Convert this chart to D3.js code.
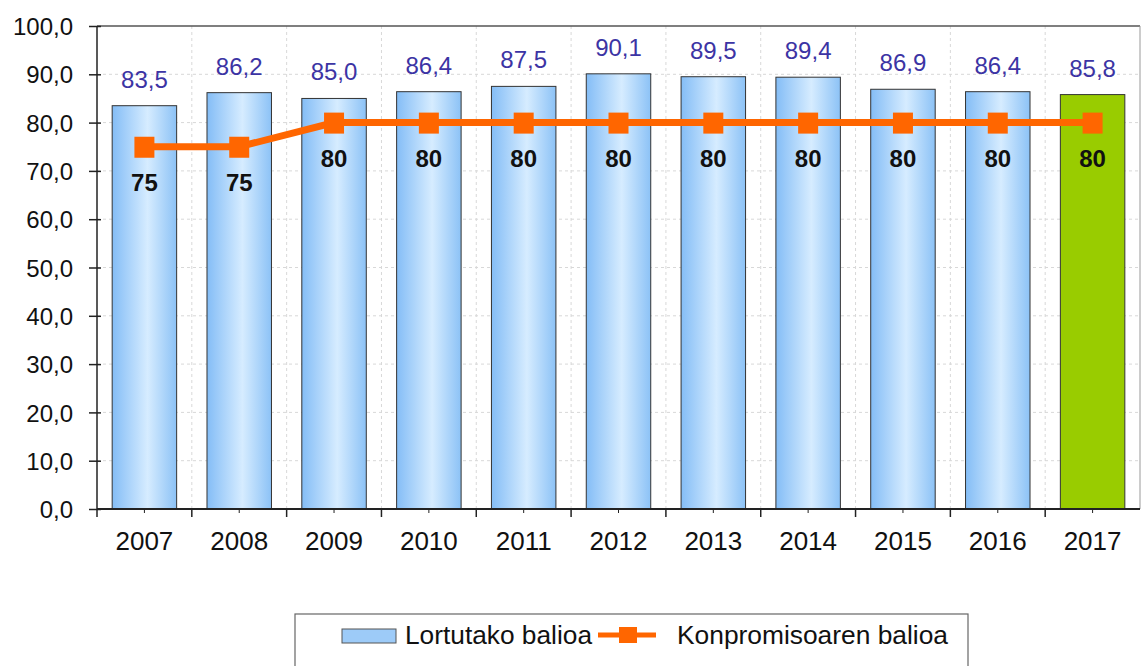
<!DOCTYPE html>
<html>
<head>
<meta charset="utf-8">
<script src="https://cdn.jsdelivr.net/npm/d3@7"></script>
<style>
  body { margin: 0; background: #fff; }
  svg { font-family: "Liberation Sans", Arial, sans-serif; }
</style>
</head>
<body>
<div id="chart"></div>
<script>
var years = ["2007", "2008", "2009", "2010", "2011", "2012", "2013", "2014", "2015", "2016", "2017"];
var achieved = [83.5, 86.2, 85.0, 86.4, 87.5, 90.1, 89.5, 89.4, 86.9, 86.4, 85.8];
var commitment = [75, 75, 80, 80, 80, 80, 80, 80, 80, 80, 80];
var yTicks = [0, 10, 20, 30, 40, 50, 60, 70, 80, 90, 100];
var legendLabels = ["Lortutako balioa", "Konpromisoaren balioa"];

var w = 1141, h = 666;
var pLeft = 97, pRight = 1140, pTop = 26, pBottom = 509;

var svg = d3.select("#chart").append("svg")
    .attr("width", w)
    .attr("height", h);

var defs = svg.append("defs");
var grad = defs.append("linearGradient").attr("id", "blueGrad")
    .attr("x1", "0%").attr("x2", "100%").attr("y1", "0%").attr("y2", "0%");
grad.append("stop").attr("offset", "0%").attr("stop-color", "#84bdf6");
grad.append("stop").attr("offset", "55%").attr("stop-color", "#d6ecff");
grad.append("stop").attr("offset", "100%").attr("stop-color", "#8cc2f6");

var x = d3.scaleBand().domain(years).range([pLeft, pRight]).paddingInner(0.32).paddingOuter(0.16);
var xb = d3.scaleBand().domain(years).range([pLeft, pRight]);
var y = d3.scaleLinear().domain([0, 100]).range([pBottom, pTop]);

var fmt = function (v) { return v.toFixed(1).replace(".", ","); };

// grid
svg.append("g").selectAll("line")
    .data(yTicks.slice(1, -1))
    .enter().append("line")
    .attr("x1", pLeft).attr("x2", pRight)
    .attr("y1", function (d) { return y(d); })
    .attr("y2", function (d) { return y(d); })
    .attr("stroke", "#d8d8d8")
    .attr("stroke-dasharray", "3,3");

svg.append("g").selectAll("line")
    .data(years.slice(1))
    .enter().append("line")
    .attr("x1", function (d) { return xb(d); })
    .attr("x2", function (d) { return xb(d); })
    .attr("y1", pTop).attr("y2", pBottom)
    .attr("stroke", "#d8d8d8")
    .attr("stroke-dasharray", "3,3");

// bars
svg.append("g").selectAll("rect")
    .data(achieved)
    .enter().append("rect")
    .attr("x", function (d, i) { return x(years[i]); })
    .attr("y", function (d) { return y(d); })
    .attr("width", x.bandwidth())
    .attr("height", function (d) { return pBottom - y(d); })
    .attr("fill", function (d, i) { return i == years.length - 1 ? "#99cc00" : "url(#blueGrad)"; })
    .attr("stroke", "#333")
    .attr("stroke-width", 1);

// frame
svg.append("line").attr("x1", pLeft).attr("x2", pRight).attr("y1", pTop).attr("y2", pTop)
    .attr("stroke", "#555").attr("stroke-width", 1.5);
svg.append("line").attr("x1", pRight).attr("x2", pRight).attr("y1", pTop).attr("y2", pBottom)
    .attr("stroke", "#999").attr("stroke-width", 1);

// y axis
var yAxis = d3.axisLeft(y).tickValues(yTicks).tickSize(12).tickFormat(fmt);
var gy = svg.append("g").attr("transform", "translate(" + (pLeft + 4) + ",0)").call(yAxis);
gy.select(".domain").remove();
gy.selectAll(".tick line").attr("stroke", "#222").attr("stroke-width", 1.5);
gy.selectAll("text").attr("font-size", 24).attr("fill", "#111").attr("x", -28).attr("dy", "0.36em");
svg.append("line").attr("x1", pLeft).attr("x2", pLeft).attr("y1", pTop).attr("y2", pBottom)
    .attr("stroke", "#222").attr("stroke-width", 1.5);

// x axis
svg.append("line").attr("x1", pLeft).attr("x2", pRight).attr("y1", pBottom).attr("y2", pBottom)
    .attr("stroke", "#222").attr("stroke-width", 2);
svg.append("g").selectAll("line")
    .data(years)
    .enter().append("line")
    .attr("x1", function (d) { return xb(d); })
    .attr("x2", function (d) { return xb(d); })
    .attr("y1", pBottom).attr("y2", pBottom + 8)
    .attr("stroke", "#222").attr("stroke-width", 1.5);
svg.append("g").selectAll("line")
    .data(years)
    .enter().append("line")
    .attr("x1", function (d) { return xb(d) + xb.bandwidth() / 2; })
    .attr("x2", function (d) { return xb(d) + xb.bandwidth() / 2; })
    .attr("y1", pBottom).attr("y2", pBottom + 4)
    .attr("stroke", "#222").attr("stroke-width", 1);
svg.append("g").selectAll("text")
    .data(years)
    .enter().append("text")
    .attr("x", function (d) { return xb(d) + xb.bandwidth() / 2; })
    .attr("y", pBottom + 41)
    .attr("text-anchor", "middle")
    .attr("font-size", 26)
    .attr("fill", "#111")
    .text(function (d) { return d; });

// bar labels
svg.append("g").selectAll("text")
    .data(achieved)
    .enter().append("text")
    .attr("x", function (d, i) { return x(years[i]) + x.bandwidth() / 2; })
    .attr("y", function (d) { return y(d) - 18; })
    .attr("text-anchor", "middle")
    .attr("font-size", 24)
    .attr("fill", "#3c34a4")
    .text(fmt);

// commitment line
var cx = function (i) { return xb(years[i]) + xb.bandwidth() / 2; };
var line = d3.line()
    .x(function (d, i) { return cx(i); })
    .y(function (d) { return y(d); });
svg.append("path")
    .datum(commitment)
    .attr("d", line)
    .attr("fill", "none")
    .attr("stroke", "#ff6600")
    .attr("stroke-width", 7);
svg.append("g").selectAll("rect")
    .data(commitment)
    .enter().append("rect")
    .attr("x", function (d, i) { return cx(i) - 10; })
    .attr("y", function (d) { return y(d) - 10; })
    .attr("width", 20).attr("height", 21)
    .attr("fill", "#ff6600");
svg.append("g").selectAll("text")
    .data(commitment)
    .enter().append("text")
    .attr("x", function (d, i) { return cx(i); })
    .attr("y", function (d) { return y(d) + 44; })
    .attr("text-anchor", "middle")
    .attr("font-size", 24)
    .attr("font-weight", "bold")
    .attr("fill", "#111")
    .text(function (d) { return d; });

// legend
var lg = svg.append("g");
lg.append("rect")
    .attr("x", 295).attr("y", 614)
    .attr("width", 673).attr("height", 70)
    .attr("fill", "#fff").attr("stroke", "#666").attr("stroke-width", 1.2);
lg.append("rect")
    .attr("x", 342).attr("y", 629).attr("width", 54).attr("height", 14)
    .attr("fill", "#9dcbf8").attr("stroke", "#555");
lg.append("text")
    .attr("x", 405).attr("y", 644)
    .attr("font-size", 26).attr("fill", "#111")
    .attr("textLength", 187).attr("lengthAdjust", "spacingAndGlyphs")
    .text(legendLabels[0]);
lg.append("line")
    .attr("x1", 598).attr("x2", 656).attr("y1", 635).attr("y2", 635)
    .attr("stroke", "#ff6600").attr("stroke-width", 5);
lg.append("rect")
    .attr("x", 619).attr("y", 627).attr("width", 18).attr("height", 16)
    .attr("fill", "#ff6600");
lg.append("text")
    .attr("x", 677).attr("y", 644)
    .attr("font-size", 26).attr("fill", "#111")
    .attr("textLength", 271).attr("lengthAdjust", "spacingAndGlyphs")
    .text(legendLabels[1]);
</script>
</body>
</html>
